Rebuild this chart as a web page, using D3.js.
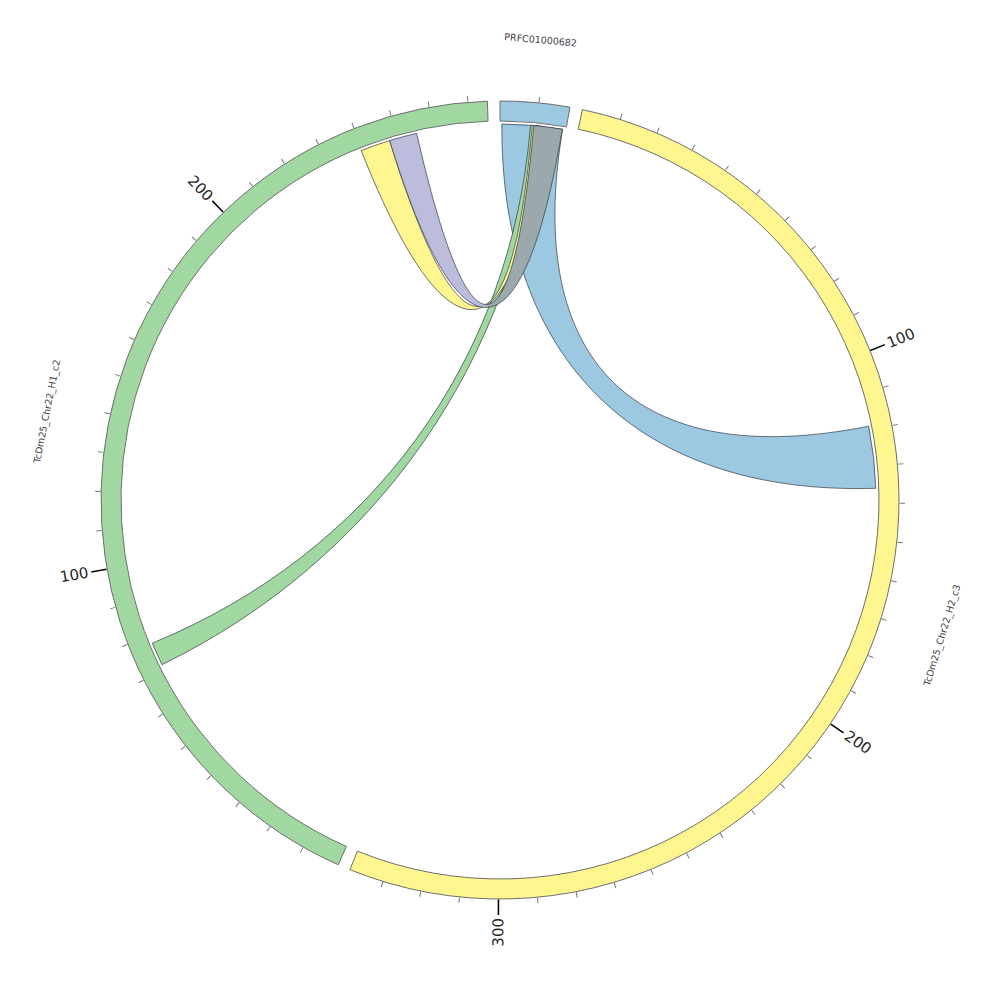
<!DOCTYPE html>
<html>
<head>
<meta charset="utf-8">
<script src="https://cdn.jsdelivr.net/npm/d3@7"></script>
<style>
    body { margin: 0; background: #fff; }
    svg text { font-family: "DejaVu Sans", sans-serif; }
</style>
</head>
<body>
<div id="chart"></div>
<script>

// segments (contigs), lengths in units
const segNames = ["PRFC01000682", "TcDm25_Chr22_H2_c3", "TcDm25_Chr22_H1_c2"];
const segLengths = [18, 339, 275];
const segColors = ["#9cc8e2", "#fff68f", "#a1d7a0"];

// links: [segment index, start, end] on each side
const linkSource = [[0, 0.5, 17.1], [2, 71.5, 77.9], [2, 239.6, 247.8], [2, 247.8, 255.4]];
const linkTarget = [[1, 119, 136], [0, 8.3, 11.0], [0, 8.8, 12.0], [0, 9.2, 17.0]];
const linkColors = ["#9cc8e2", "#a1d7a0", "#fff68f", "url(#purpleGray)"];

const majorTicks = [100, 200, 300];
const minorStep = 10;

let width = 1000, height = 1000;
let outerR = 399, innerR = 379, linkR = 376, ctrlK = 0.37;
let gapDeg = 1.82, degPerUnit = 0.561;

let svg = d3.select("#chart").append("svg")
    .attr("width", width)
    .attr("height", height);

// gradient: lavender arm on the left, grey arm on the right
let grad = svg.append("defs").append("linearGradient")
    .attr("id", "purpleGray")
    .attr("gradientUnits", "userSpaceOnUse")
    .attr("x1", -14).attr("x2", -12).attr("y1", 0).attr("y2", 0);
grad.append("stop").attr("offset", 0).attr("stop-color", "#bcbcdc");
grad.append("stop").attr("offset", 1).attr("stop-color", "#9ba9ad");

let g = svg.append("g")
    .attr("transform", `translate(${width / 2}, ${height / 2})`);

// one angular scale per segment
let rad = Math.PI / 180;
let start = 0;
let scales = segLengths.map(len => {
    let s = d3.scaleLinear().domain([0, len]).range([start * rad, (start + len * degPerUnit) * rad]);
    start += len * degPerUnit + gapDeg;
    return s;
});

let pt = (r, th) => [r * Math.sin(th), -r * Math.cos(th)];

// ribbon: arcs on the ends, cubic curves whose handles point to the centre
function ribbonPath(src, tgt) {
    let s0 = scales[src[0]](src[1]), s1 = scales[src[0]](src[2]);
    let t0 = scales[tgt[0]](tgt[1]), t1 = scales[tgt[0]](tgt[2]);
    let curve = (p, a, b) => {
        let c1 = pt(linkR * ctrlK, a), c2 = pt(linkR * ctrlK, b), e = pt(linkR, b);
        p.bezierCurveTo(c1[0], c1[1], c2[0], c2[1], e[0], e[1]);
    };
    let p = d3.path();
    p.moveTo(...pt(linkR, s0));
    p.arc(0, 0, linkR, s0 - Math.PI / 2, s1 - Math.PI / 2);
    curve(p, s1, t0);
    p.arc(0, 0, linkR, t0 - Math.PI / 2, t1 - Math.PI / 2);
    curve(p, t1, s0);
    p.closePath();
    return p.toString();
}

// links
g.selectAll(".link")
    .data(linkSource.map((d, i) => ({src: d, tgt: linkTarget[i], color: linkColors[i]})))
    .enter()
    .append("path")
    .attr("class", "link")
    .attr("d", d => ribbonPath(d.src, d.tgt))
    .attr("fill", d => d.color)
    .attr("stroke", "#2f3a40")
    .attr("stroke-width", 0.7);

// segment bands
let arc = d3.arc().innerRadius(innerR).outerRadius(outerR);
g.selectAll(".seg")
    .data(segNames)
    .enter()
    .append("path")
    .attr("class", "seg")
    .attr("d", (d, i) => arc({startAngle: scales[i].range()[0], endAngle: scales[i].range()[1]}))
    .attr("fill", (d, i) => segColors[i])
    .attr("stroke", "#6e6e6e")
    .attr("stroke-width", 1);

// ticks
segLengths.forEach((len, i) => {
    let minor = d3.range(minorStep, len, minorStep).filter(v => !majorTicks.includes(v));
    let major = majorTicks.filter(v => v < len);

    g.selectAll(".minor" + i)
        .data(minor)
        .enter()
        .append("line")
        .attr("transform", d => `rotate(${scales[i](d) / rad - 90})`)
        .attr("x1", outerR + 0.5).attr("x2", outerR + 6)
        .attr("stroke", "#777")
        .attr("stroke-width", 1);

    g.selectAll(".major" + i)
        .data(major)
        .enter()
        .append("line")
        .attr("transform", d => `rotate(${scales[i](d) / rad - 90})`)
        .attr("x1", outerR + 0.5).attr("x2", outerR + 16)
        .attr("stroke", "#000")
        .attr("stroke-width", 1.5);

    g.selectAll(".majorLabel" + i)
        .data(major)
        .enter()
        .append("text")
        .attr("transform", d => {
            let deg = scales[i](d) / rad;
            let flip = deg > 180;
            return `rotate(${deg - 90}) translate(${outerR + 19}, 0)` + (flip ? " rotate(180)" : "");
        })
        .attr("text-anchor", d => scales[i](d) / rad > 180 ? "end" : "start")
        .attr("dominant-baseline", "central")
        .attr("font-size", 15)
        .attr("fill", "#222")
        .text(d => d);
});

// segment names
g.selectAll(".segLabel")
    .data(segNames)
    .enter()
    .append("text")
    .attr("class", "segLabel")
    .attr("transform", (d, i) => {
        let deg = (scales[i].range()[0] + scales[i].range()[1]) / 2 / rad;
        let flip = deg > 90 && deg < 270;
        return `rotate(${deg}) translate(0, -462)` + (flip ? " rotate(180)" : "");
    })
    .attr("text-anchor", "middle")
    .attr("dominant-baseline", "central")
    .attr("font-size", 9.5)
    .attr("fill", "#444")
    .text(d => d);

</script>
</body>
</html>
